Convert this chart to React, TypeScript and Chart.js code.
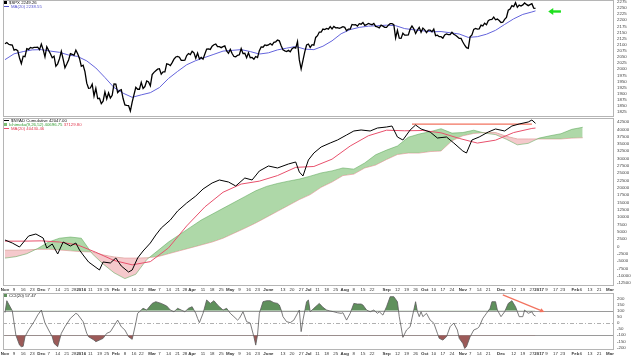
import React, { useEffect, useRef } from 'react';
import { Chart, registerables } from 'chart.js';

Chart.register(...registerables);

const FONT = '"Liberation Sans", Arial, Helvetica, sans-serif';

// ---------- trading calendar ----------
const FIRST_SESSION = '2015-11-02';
const LAST_CALENDAR_DAY = '2017-03-31';
const HOLIDAYS = ['2015-11-26', '2015-12-25', '2016-01-01', '2016-01-18', '2016-02-15', '2016-03-25', '2016-05-30', '2016-07-04', '2016-09-05', '2016-11-24', '2016-12-26', '2017-01-02', '2017-01-16', '2017-02-20'];

// ---------- x axis ticks ----------
const TICK_DATES = ['2015-11-02', '2015-11-09', '2015-11-16', '2015-11-23', '2015-12-01', '2015-12-07', '2015-12-14', '2015-12-21', '2015-12-28', '2016-01-04', '2016-01-11', '2016-01-19', '2016-01-25', '2016-02-01', '2016-02-08', '2016-02-16', '2016-02-22', '2016-03-01', '2016-03-07', '2016-03-14', '2016-03-21', '2016-03-28', '2016-04-01', '2016-04-11', '2016-04-18', '2016-04-25', '2016-05-02', '2016-05-09', '2016-05-16', '2016-05-23', '2016-06-01', '2016-06-13', '2016-06-20', '2016-06-27', '2016-07-01', '2016-07-11', '2016-07-18', '2016-07-25', '2016-08-01', '2016-08-08', '2016-08-15', '2016-08-22', '2016-09-01', '2016-09-12', '2016-09-19', '2016-09-26', '2016-10-03', '2016-10-10', '2016-10-17', '2016-10-24', '2016-11-01', '2016-11-07', '2016-11-14', '2016-11-21', '2016-12-01', '2016-12-12', '2016-12-19', '2016-12-27', '2017-01-03', '2017-01-09', '2017-01-17', '2017-01-23', '2017-02-01', '2017-02-06', '2017-02-13', '2017-02-21', '2017-03-01'];
const TICK_LABELS = ['Nov', '9', '16', '23', 'Dec', '7', '14', '21', '28', '2016', '11', '19', '25', 'Feb', '8', '16', '22', 'Mar', '7', '14', '21', '28', 'Apr', '11', '18', '25', 'May', '9', '16', '23', 'June', '13', '20', '27', 'Jul', '11', '18', '25', 'Aug', '8', '15', '22', 'Sep', '12', '19', '26', 'Oct', '10', '17', '24', 'Nov', '7', '14', '21', 'Dec', '12', '19', '27', '2017', '9', '17', '23', 'Feb', '6', '13', '21', 'Mar'];

// ---------- y axis ticks ----------
const PRICE_TICKS = [2275, 2250, 2225, 2200, 2175, 2150, 2125, 2100, 2075, 2050, 2025, 2000, 1975, 1950, 1925, 1900, 1875, 1850, 1825];
const NYAD_TICKS = [42500, 40000, 37500, 35000, 32500, 30000, 27500, 25000, 22500, 20000, 17500, 15000, 12500, 10000, 7500, 5000, 2500, 0, -2500, -5000, -7500, -10000, -12500];
const CCI_TICKS = [200, 150, 100, 50, 0, -50, -100, -150, -200];

// ---------- $SPX daily closes (session 0 = 2015-11-02 ... session 292 = 2016-12-29) ----------
const SPX_CLOSE = [
  2104, 2109, 2102, 2100, 2099, 2078, 2081, 2076, 2046, 2023, 2053, 2051, 2084, 2081, 2089, 2086, 2089, 2089, 2090, 2080,
  2103, 2080, 2050, 2092, 2077, 2063, 2047, 2053, 2012, 2022, 2043, 2073, 2041, 2006, 2021, 2038, 2064, 2061, 2057, 2078, 2063, 2044,
  2012, 2016, 1990, 1943, 1922, 1923, 1939, 1890, 1922, 1880, 1881, 1859, 1869, 1907, 1878, 1903, 1882, 1893, 1940,
  1939, 1904, 1913, 1916, 1880, 1854, 1852, 1851, 1829, 1865, 1896, 1926, 1918, 1918, 1946, 1921, 1929, 1952, 1948, 1932,
  1978, 1987, 1994, 2000, 2002, 1980, 1989, 1989, 2022, 2020, 2015, 2027, 2041, 2050, 2052, 2049, 2036, 2036, 2037, 2056, 2064, 2060,
  2073, 2067, 2045, 2066, 2042, 2048, 2041, 2062, 2082, 2083, 2081, 2094, 2100, 2103, 2092, 2092, 2088, 2092, 2095, 2075, 2065,
  2081, 2064, 2052, 2051, 2057, 2059, 2084, 2064, 2065, 2047, 2067, 2047, 2048, 2041, 2052, 2048, 2076, 2091, 2090, 2099, 2097,
  2099, 2105, 2099, 2110, 2112, 2119, 2116, 2096, 2079, 2075, 2072, 2077, 2071, 2084, 2089, 2086, 2113, 2038, 2001, 2036, 2071, 2099,
  2103, 2089, 2100, 2098, 2130, 2137, 2152, 2152, 2164, 2162, 2167, 2164, 2174, 2165, 2175, 2169, 2170, 2167, 2170, 2174,
  2171, 2157, 2164, 2164, 2183, 2181, 2182, 2176, 2186, 2184, 2191, 2179, 2182, 2187, 2184, 2182, 2187, 2175, 2173, 2169, 2180, 2176, 2171,
  2171, 2180, 2186, 2186, 2182, 2128, 2159, 2127, 2126, 2147, 2139, 2139, 2140, 2164, 2177, 2165, 2146, 2160, 2171, 2151, 2168,
  2161, 2150, 2160, 2160, 2153, 2164, 2137, 2139, 2133, 2133, 2127, 2140, 2144, 2141, 2141, 2151, 2143, 2139, 2133, 2126, 2126,
  2111, 2098, 2088, 2085, 2132, 2140, 2163, 2167, 2164, 2165, 2180, 2177, 2188, 2182, 2198, 2203, 2204, 2213, 2202, 2205, 2199,
  2191, 2192, 2204, 2212, 2241, 2246, 2260, 2256, 2272, 2253, 2262, 2258, 2263, 2271, 2265, 2260, 2264, 2268, 2250, 2249,
];

// MA(20) of $SPX, read every 5 sessions, plus the last session
const SPX_MA_DAYS = [0, 5, 10, 15, 20, 25, 30, 35, 40, 45, 50, 55, 60, 65, 70, 75, 80, 85, 90, 95, 100, 105, 110, 115, 120, 125, 130, 135, 140, 145, 150, 155, 160, 165, 170, 175, 180, 185, 190, 195, 200, 205, 210, 215, 220, 225, 230, 235, 240, 245, 250, 255, 260, 265, 270, 275, 280, 285, 290, 292];
const SPX_MA = [2039, 2063, 2072, 2079, 2080, 2074, 2069, 2058, 2052, 2034, 2005, 1966, 1925, 1902, 1885, 1895, 1904, 1925, 1962, 1991, 2018, 2035, 2048, 2061, 2074, 2077, 2080, 2072, 2062, 2067, 2079, 2086, 2093, 2082, 2080, 2094, 2116, 2145, 2162, 2171, 2176, 2178, 2180, 2178, 2166, 2161, 2157, 2153, 2154, 2149, 2144, 2130, 2133, 2143, 2159, 2183, 2206, 2224, 2234, 2238.55];

// ---------- $NYAD cumulative ----------
const NYAD_DAYS = [0, 4, 8, 13, 17, 21, 23, 26, 29, 32, 36, 39, 41, 43, 46, 49, 52, 54, 58, 61, 64, 68, 70, 73, 76, 80, 83, 86, 91, 95, 100, 105, 109, 114, 118, 123, 127, 132, 136, 140, 145, 150, 156, 160, 162, 164, 167, 170, 174, 179, 183, 188, 192, 196, 201, 205, 210, 213, 216, 219, 223, 226, 229, 234, 238, 243, 247, 252, 254, 257, 261, 266, 270, 275, 279, 283, 288, 290, 292];
const NYAD = [2190, 1165, -200, 3560, 4240, 2870, -540, 820, -2590, 1510, 140, 1165, -1225, -2930, -5320, -6690, -8060, -5320, -5660, -3960, -6690, -8740, -8060, -3960, -1570, 1165, 3900, 6290, 9020, 12100, 14830, 17220, 19610, 21660, 22690, 22000, 20640, 23370, 22690, 25760, 27470, 26790, 28150, 28840, 25420, 24050, 29520, 31910, 33960, 35330, 36350, 38060, 39430, 39770, 39430, 40450, 40790, 41130, 37380, 36350, 39770, 41475, 40110, 39080, 37030, 37380, 35330, 32590, 31910, 36350, 37380, 39080, 40110, 39430, 41130, 41820, 42500, 43180, 42047];

// MA(20) of $NYAD, read every 10 sessions, plus the last session
const NYAD_MA_DAYS = [0, 10, 20, 30, 40, 50, 60, 70, 80, 90, 100, 110, 120, 130, 140, 150, 160, 170, 180, 190, 200, 210, 220, 230, 240, 250, 260, 270, 280, 290, 292];
const NYAD_MA = [1800, 1800, 1900, 1500, 500, -2000, -4800, -6300, -5200, -500, 7000, 13500, 18500, 21300, 22300, 24200, 27000, 27300, 29800, 34300, 37800, 39700, 39500, 39600, 38800, 36900, 35300, 36300, 38900, 40300, 40430.46];

// Ichimoku cloud (already shifted forward), read every 6 sessions
const CLOUD_DAYS = [0, 6, 12, 18, 24, 30, 36, 42, 48, 54, 60, 66, 72, 78, 84, 90, 96, 102, 108, 114, 120, 126, 132, 138, 144, 150, 156, 162, 168, 174, 180, 186, 192, 198, 204, 210, 216, 222, 228, 234, 240, 246, 252, 258, 264, 270, 276, 282, 288, 294, 300, 306, 312, 318];
const SPAN_A = [-4000, -3500, -2500, -700, 1500, 2800, 3200, 2800, -2500, -6000, -9000, -11000, -9500, -4500, -1500, 1500, 4000, 6500, 9000, 11000, 13000, 15000, 17000, 19000, 20500, 21500, 22300, 23000, 24000, 25100, 25800, 26800, 26400, 28500, 31300, 32900, 34300, 37300, 38400, 39200, 40200, 38700, 38900, 39700, 38700, 38200, 36600, 34700, 35200, 37000, 37800, 38500, 40000, 40700];
const SPAN_B = [-1300, -1300, -1200, -1000, -1000, -1200, -1500, -1800, -1900, -2900, -3600, -4000, -4000, -3900, -3500, -2500, -1500, -500, 500, 1500, 2800, 4500, 6200, 8000, 10000, 12000, 14000, 16000, 17700, 20200, 22000, 24200, 24700, 26800, 27800, 29700, 31400, 31900, 31900, 32400, 32600, 36100, 37800, 38600, 38900, 38900, 37600, 36700, 36700, 36700, 36700, 36700, 37000, 37130];

// annotation: resistance line on $NYAD
const RESIST_DAYS = [224, 290];
const RESIST_LEVEL = 41800;

// ---------- CCI(20) ----------
const CCI_DAYS = [0, 1, 4, 5, 6, 8, 9, 10, 11, 13, 16, 18, 20, 22, 24, 26, 27, 29, 31, 33, 36, 39, 40, 43, 45, 46, 49, 50, 52, 54, 56, 58, 61, 62, 64, 66, 68, 70, 72, 73, 74, 76, 78, 81, 83, 86, 89, 91, 93, 95, 97, 99, 101, 103, 105, 106, 107, 109, 111, 113, 115, 117, 118, 120, 122, 124, 126, 128, 129, 131, 133, 135, 137, 138, 139, 140, 142, 144, 146, 148, 150, 151, 152, 153, 155, 157, 159, 161, 162, 163, 164, 166, 167, 168, 170, 172, 173, 175, 177, 179, 181, 183, 185, 186, 188, 190, 192, 194, 196, 197, 199, 201, 203, 205, 206, 208, 210, 212, 214, 216, 217, 218, 219, 221, 223, 225, 226, 227, 228, 229, 230, 232, 234, 236, 238, 239, 241, 243, 245, 247, 249, 250, 252, 253, 254, 256, 258, 260, 261, 263, 265, 267, 268, 270, 271, 273, 275, 277, 279, 281, 283, 285, 286, 288, 290, 291, 292];
const CCI = [85, 182, 100, 0, -100, -180, -193, -190, -112, -57, 11, 65, 106, 0, -57, -112, -166, -193, -84, -30, 38, 79, 71, 11, -84, -112, -139, -152, -139, -125, -84, -71, 0, 24, -30, -57, -112, -133, 0, 79, 92, 120, 106, 160, 174, 160, 139, 106, 92, 120, 106, 92, 120, 133, 79, 38, 3, 79, 188, 160, 182, 147, 133, 106, 120, 79, 52, 24, 38, 92, 11, 0, -112, -180, -98, 79, 174, 182, 182, 166, 160, 147, 106, 52, 11, 3, 24, 79, 106, -70, 24, 174, 188, 92, 120, 147, 160, 128, 106, 98, 92, 84, 79, 84, 24, 79, 160, 155, 155, 147, 106, 92, 106, 79, 92, 65, 133, 215, 215, 174, 52, -30, -117, -57, -30, 106, 174, 92, 52, 92, 52, 79, 24, 0, -84, -125, -139, -112, -30, 0, -57, -125, -166, -207, -193, -112, -57, -44, -30, 38, 79, 120, 174, 174, 106, 52, 92, 160, 182, 133, 52, 52, 106, 79, 92, 65, 57.47];

// annotation arrows
const GREEN_ARROW = { tipDay: 299, tailDay: 306, price: 2236 };
const RED_ARROW = { fromDay: 274, fromCci: 229, toDay: 297, toCci: 90 };

// ---------- helpers ----------
const X_MIN = -1.1;
const X_MAX = 335.2;

function buildSessions(): string[] {
  const out: string[] = [];
  const [y, m, d] = FIRST_SESSION.split('-').map(Number);
  const [y2, m2, d2] = LAST_CALENDAR_DAY.split('-').map(Number);
  let t = Date.UTC(y, m - 1, d);
  const end = Date.UTC(y2, m2 - 1, d2);
  while (t <= end) {
    const dt = new Date(t);
    const wd = dt.getUTCDay();
    const iso = dt.toISOString().slice(0, 10);
    if (wd !== 0 && wd !== 6 && !HOLIDAYS.includes(iso)) out.push(iso);
    t += 86400000;
  }
  return out;
}

const pts = (days: number[], vals: number[]) => vals.map((v, k) => ({ x: days[k], y: v }));
const isBold = (i: number) => {
  const l = TICK_LABELS[i] || '';
  return /^[A-Za-z]/.test(l) || l.length === 4;
};

const framePlugin = {
  id: 'frame',
  afterDraw(chart: any) {
    const { ctx, chartArea: a } = chart;
    ctx.save();
    ctx.strokeStyle = '#b5b5b5';
    ctx.lineWidth = 1;
    ctx.strokeRect(a.left + 0.5, a.top + 0.5, a.right - a.left - 1, a.bottom - a.top - 1);
    ctx.restore();
  },
};

export default function App() {
  const priceRef = useRef<HTMLCanvasElement>(null);
  const nyadRef = useRef<HTMLCanvasElement>(null);
  const cciRef = useRef<HTMLCanvasElement>(null);

  useEffect(() => {
    document.body.style.margin = '0';
    const sessions = buildSessions();
    const tickDays = TICK_DATES.map((d) => sessions.indexOf(d));
    const spxDays = SPX_CLOSE.map((_, i) => i);

    const xHidden = { type: 'linear', min: X_MIN, max: X_MAX, display: false };
    const xAxis = (position: string, h: number) => ({
      type: 'linear',
      position,
      min: X_MIN,
      max: X_MAX,
      grid: { display: false, drawTicks: false },
      border: { display: false },
      ticks: {
        autoSkip: false,
        maxRotation: 0,
        minRotation: 0,
        padding: 1,
        color: '#333',
        font: (ctx: any) => ({ family: FONT, size: 4.4, weight: isBold(ctx.index) ? 'bold' : 'normal' }),
        callback: (_v: any, i: number) => TICK_LABELS[i],
      },
      afterBuildTicks: (s: any) => {
        s.ticks = tickDays.map((v) => ({ value: v }));
      },
      afterFit: (s: any) => {
        s.height = h;
        s.paddingLeft = 0;
        s.paddingRight = 0;
      },
    });
    const yAxis = (min: number, max: number, ticks: number[]) => ({
      type: 'linear',
      position: 'right',
      min,
      max,
      grid: { display: false, drawTicks: false },
      border: { display: false },
      ticks: {
        autoSkip: false,
        padding: 3,
        color: '#444',
        font: { family: FONT, size: 4.4 },
        callback: (v: any) => String(v),
      },
      afterBuildTicks: (s: any) => {
        s.ticks = ticks.map((v) => ({ value: v }));
      },
      afterFit: (s: any) => {
        s.width = 26;
        s.paddingTop = 0;
        s.paddingBottom = 0;
      },
    });
    const base = (padding: any) => ({
      responsive: false,
      animation: false,
      devicePixelRatio: 1,
      events: [],
      layout: { padding },
      plugins: { legend: { display: false }, tooltip: { enabled: false } },
      elements: { point: { radius: 0 }, line: { tension: 0 } },
    });

    const greenArrow = {
      id: 'greenArrow',
      afterDraw(chart: any) {
        const { ctx } = chart;
        const xs = chart.scales.x;
        const ys = chart.scales.y;
        const xt = xs.getPixelForValue(GREEN_ARROW.tipDay);
        const xe = xs.getPixelForValue(GREEN_ARROW.tailDay);
        const y = ys.getPixelForValue(GREEN_ARROW.price);
        ctx.save();
        ctx.fillStyle = '#1fe01f';
        ctx.beginPath();
        ctx.moveTo(xt, y);
        ctx.lineTo(xt + 5, y - 3.5);
        ctx.lineTo(xt + 5, y + 3.5);
        ctx.closePath();
        ctx.fill();
        ctx.fillRect(xt + 4, y - 1.2, xe - xt - 4, 2.4);
        ctx.restore();
      },
    };

    const redArrow = {
      id: 'redArrow',
      afterDraw(chart: any) {
        const { ctx } = chart;
        const xs = chart.scales.x;
        const ys = chart.scales.y;
        const x1 = xs.getPixelForValue(RED_ARROW.fromDay);
        const y1 = ys.getPixelForValue(RED_ARROW.fromCci);
        const x2 = xs.getPixelForValue(RED_ARROW.toDay);
        const y2 = ys.getPixelForValue(RED_ARROW.toCci);
        const ang = Math.atan2(y2 - y1, x2 - x1);
        const hl = 5;
        ctx.save();
        ctx.strokeStyle = '#f2735f';
        ctx.fillStyle = '#f2735f';
        ctx.lineWidth = 1.3;
        ctx.beginPath();
        ctx.moveTo(x1, y1);
        ctx.lineTo(x2 - Math.cos(ang) * 3, y2 - Math.sin(ang) * 3);
        ctx.stroke();
        ctx.beginPath();
        ctx.moveTo(x2, y2);
        ctx.lineTo(x2 - hl * Math.cos(ang - 0.45), y2 - hl * Math.sin(ang - 0.45));
        ctx.lineTo(x2 - hl * Math.cos(ang + 0.45), y2 - hl * Math.sin(ang + 0.45));
        ctx.closePath();
        ctx.fill();
        ctx.restore();
      },
    };

    const cciLines = {
      id: 'cciLines',
      beforeDatasetsDraw(chart: any) {
        const { ctx, chartArea: a } = chart;
        const ys = chart.scales.y;
        ctx.save();
        ctx.lineWidth = 1;
        ctx.strokeStyle = '#9a9a9a';
        [100, -100].forEach((v) => {
          const y = Math.round(ys.getPixelForValue(v)) + 0.5;
          ctx.beginPath();
          ctx.moveTo(a.left, y);
          ctx.lineTo(a.right, y);
          ctx.stroke();
        });
        ctx.strokeStyle = '#b0b0b0';
        ctx.setLineDash([4, 2, 1, 2]);
        const y0 = Math.round(ys.getPixelForValue(0)) + 0.5;
        ctx.beginPath();
        ctx.moveTo(a.left, y0);
        ctx.lineTo(a.right, y0);
        ctx.stroke();
        ctx.restore();
      },
    };

    const charts: any[] = [];

    charts.push(
      new Chart(priceRef.current as HTMLCanvasElement, {
        type: 'line',
        data: {
          datasets: [
            { data: pts(spxDays, SPX_CLOSE), borderColor: '#000', borderWidth: 1.3, pointRadius: 0, order: 0 },
            { data: pts(SPX_MA_DAYS, SPX_MA), borderColor: '#6464dc', borderWidth: 1, pointRadius: 0, order: 1 },
          ],
        },
        options: { ...base({ left: 3, right: 0, top: 0, bottom: 1 }), scales: { x: xHidden, y: yAxis(1804.5, 2283, PRICE_TICKS) } } as any,
        plugins: [framePlugin, greenArrow],
      } as any)
    );

    charts.push(
      new Chart(nyadRef.current as HTMLCanvasElement, {
        type: 'line',
        data: {
          datasets: [
            { data: pts(NYAD_DAYS, NYAD), borderColor: '#000', borderWidth: 1, pointRadius: 0, order: 0 },
            { data: pts(RESIST_DAYS, RESIST_DAYS.map(() => RESIST_LEVEL)), borderColor: '#f2735f', borderWidth: 1.3, pointRadius: 0, order: 1 },
            { data: pts(NYAD_MA_DAYS, NYAD_MA), borderColor: '#e8506c', borderWidth: 1, pointRadius: 0, order: 2 },
            {
              data: pts(CLOUD_DAYS, SPAN_A),
              borderColor: 'rgba(90,165,85,0.9)',
              borderWidth: 0.6,
              pointRadius: 0,
              order: 3,
              fill: { target: 4, above: 'rgba(125,192,115,0.62)', below: 'rgba(238,165,170,0.6)' },
            },
            { data: pts(CLOUD_DAYS, SPAN_B), borderColor: 'rgba(215,110,110,0.85)', borderWidth: 0.6, pointRadius: 0, order: 4 },
          ],
        },
        options: { ...base({ left: 3, right: 0, top: 1, bottom: 0 }), scales: { x: xHidden, y: yAxis(-13522, 43866, NYAD_TICKS) } } as any,
        plugins: [framePlugin],
      } as any)
    );

    charts.push(
      new Chart(cciRef.current as HTMLCanvasElement, {
        type: 'line',
        data: {
          datasets: [
            {
              data: pts(CCI_DAYS, CCI),
              borderColor: '#5a5a5a',
              borderWidth: 0.8,
              pointRadius: 0,
              order: 0,
              fill: { target: { value: 100 }, above: '#5f905c', below: 'rgba(0,0,0,0)' },
            },
            {
              data: pts(CCI_DAYS, CCI),
              borderColor: 'rgba(0,0,0,0)',
              borderWidth: 0,
              pointRadius: 0,
              order: 1,
              fill: { target: { value: -100 }, above: 'rgba(0,0,0,0)', below: '#9c5a58' },
            },
          ],
        },
        options: {
          ...base({ left: 3, right: 0, top: 0, bottom: 0 }),
          scales: { x: xAxis('bottom', 9), xTop: xAxis('top', 7), y: yAxis(-220, 245, CCI_TICKS) },
        } as any,
        plugins: [cciLines, framePlugin, redArrow],
      } as any)
    );

    return () => charts.forEach((c) => c.destroy());
  }, []);

  const leg: React.CSSProperties = {
    position: 'absolute',
    left: 4,
    fontFamily: FONT,
    fontSize: 4.3,
    lineHeight: '4px',
    whiteSpace: 'nowrap',
    color: '#111',
  };
  const dash = (c: string): React.CSSProperties => ({
    display: 'inline-block',
    width: 5,
    height: 0,
    borderTop: `1px solid ${c}`,
    verticalAlign: 'middle',
    marginRight: 2,
  });
  const box = (c: string): React.CSSProperties => ({
    display: 'inline-block',
    width: 3,
    height: 3,
    background: c,
    marginRight: 2,
    verticalAlign: 'middle',
  });

  return (
    <div style={{ position: 'fixed', left: 0, top: 0, width: 640, height: 359, background: '#fff', overflow: 'hidden' }}>
      <canvas ref={priceRef} width={640} height={118} style={{ position: 'absolute', left: 0, top: 0, width: 640, height: 118 }} />
      <canvas ref={nyadRef} width={640} height={169} style={{ position: 'absolute', left: 0, top: 117, width: 640, height: 169 }} />
      <canvas ref={cciRef} width={640} height={73} style={{ position: 'absolute', left: 0, top: 286, width: 640, height: 73 }} />

      <div style={{ ...leg, top: 1 }}>
        <div><span style={box('#000')} />$SPX 2249.26</div>
        <div style={{ color: '#5555d0' }}><span style={dash('#5555d0')} />MA(20) 2238.55</div>
      </div>
      <div style={{ ...leg, top: 119 }}>
        <div><span style={dash('#000')} />$NYAD Cumulative 42047.00</div>
        <div style={{ color: '#2f9a2f' }}><span style={box('#7cc073')} />Ichimoku(9,26,52) 40696.75 <span style={{ color: '#e03a50' }}>37129.80</span></div>
        <div style={{ color: '#e03a50' }}><span style={dash('#e8506c')} />MA(20) 40430.46</div>
      </div>
      <div style={{ ...leg, top: 294 }}>
        <div><span style={box('#5f905c')} />CCI(20) 57.47</div>
      </div>
    </div>
  );
}
